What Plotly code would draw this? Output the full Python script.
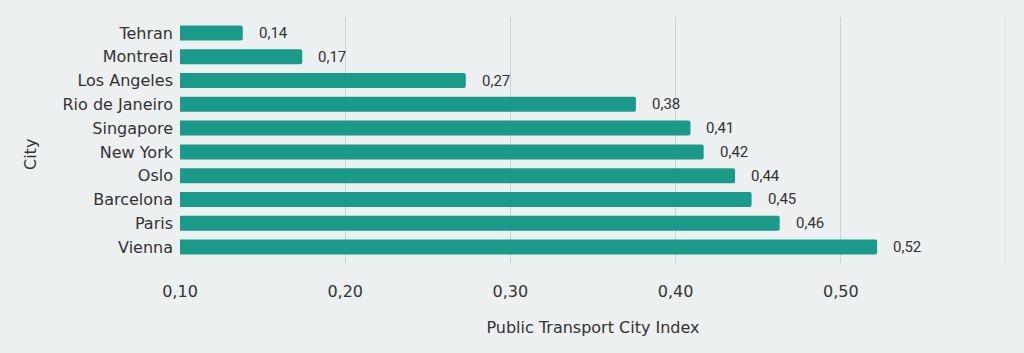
import plotly.graph_objects as go

cities = ["Tehran", "Montreal", "Los Angeles", "Rio de Janeiro", "Singapore",
          "New York", "Oslo", "Barcelona", "Paris", "Vienna"]
index_values = [0.138, 0.174, 0.273, 0.376, 0.409, 0.417, 0.436, 0.446, 0.463, 0.522]
tick_vals = [0.1, 0.2, 0.3, 0.4, 0.5, 0.6]
tick_text = ["0,10", "0,20", "0,30", "0,40", "0,50", ""]

BG = "#ECF0F1"
BAR = "#1B9A8A"
TXT = "#333333"
GRID = "#CDD2D5"

fig = go.Figure()
fig.add_trace(go.Bar(
    x=index_values, y=cities, orientation="h",
    marker=dict(color=BAR, cornerradius=2, line=dict(width=0)),
    width=0.63, hoverinfo="skip",
))

for c, v in zip(cities, index_values):
    fig.add_annotation(x=v, y=c, xref="x", yref="y", text=f"{v:.2f}".replace(".", ","),
                       showarrow=False, xanchor="left", xshift=14,
                       font=dict(family="Roboto", size=15, color=TXT))

fig.add_annotation(text="City", xref="paper", yref="paper",
                   x=-(180 - 30) / 826, y=(263 - 155) / 246, textangle=-90,
                   showarrow=False, xanchor="center", yanchor="middle",
                   font=dict(family="DejaVu Sans", size=16, color=TXT))

# gridline at the right end of the axis range
fig.add_shape(type="line", xref="x", yref="paper", x0=tick_vals[-1], x1=tick_vals[-1],
              y0=0, y1=1, line=dict(color=GRID, width=1), layer="below")

fig.update_layout(
    width=1024, height=353,
    margin=dict(l=180, r=18, t=17, b=90),
    paper_bgcolor=BG, plot_bgcolor=BG,
    showlegend=False,
    separators=", ",
    font=dict(family="DejaVu Sans", size=16, color=TXT),
    xaxis=dict(range=[0.1, tick_vals[-1]], tickvals=tick_vals, ticktext=tick_text,
               showgrid=True, gridcolor=GRID, gridwidth=1, zeroline=False,
               showline=False, ticks="", ticklabelstandoff=17,
               title=dict(text="Public Transport City Index", standoff=21,
                          font=dict(family="DejaVu Sans", size=16, color=TXT)),
               tickfont=dict(family="DejaVu Sans", size=16, color=TXT)),
    yaxis=dict(categoryorder="array", categoryarray=cities,
               range=[9.67, -0.67], showgrid=False, zeroline=False, showline=False,
               ticks="", ticklabelstandoff=6,
               tickfont=dict(family="DejaVu Sans", size=16, color=TXT)),
)

fig.write_html("out.html")
